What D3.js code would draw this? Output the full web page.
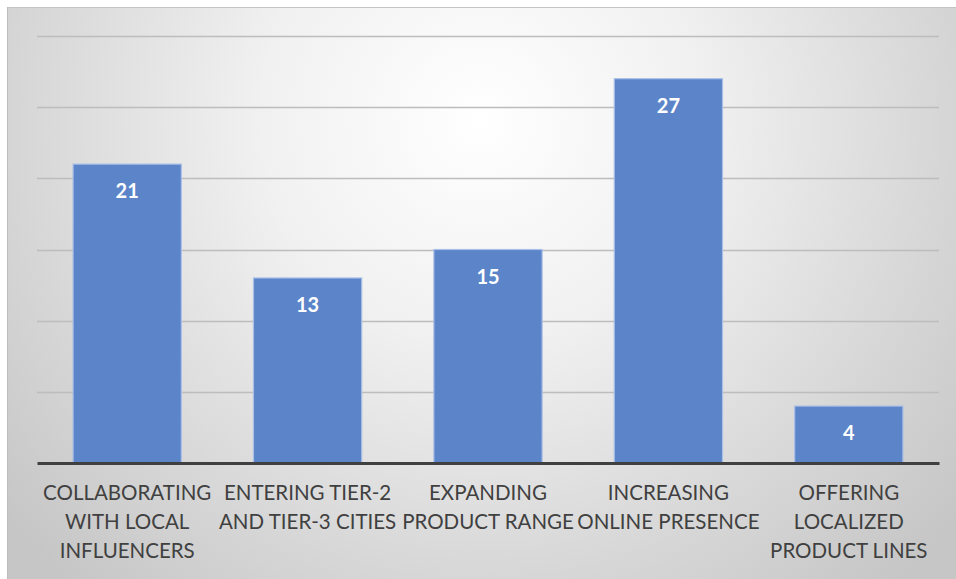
<!DOCTYPE html>
<html>
<head>
<meta charset="utf-8">
<script src="https://cdn.jsdelivr.net/npm/d3@7"></script>
<style>
  html, body { margin: 0; padding: 0; background: #ffffff; }
  svg { display: block; }
</style>
</head>
<body>
<svg id="chart" width="956" height="579"></svg>
<script>
// Strategy categories, with their wrapped label lines
const categories = [
  "Collaborating with local influencers",
  "Entering Tier-2 and Tier-3 cities",
  "Expanding product range",
  "Increasing online presence",
  "Offering localized product lines"
];
const labelLines = [
  ["COLLABORATING", "WITH LOCAL", "INFLUENCERS"],
  ["ENTERING TIER-2", "AND TIER-3 CITIES"],
  ["EXPANDING", "PRODUCT RANGE"],
  ["INCREASING", "ONLINE PRESENCE"],
  ["OFFERING", "LOCALIZED", "PRODUCT LINES"]
];
const values = [21, 13, 15, 27, 4];
const gridTicks = [5, 10, 15, 20, 25, 30];

const W = 956, H = 579;
const svg = d3.select("#chart");

// Soft radial background panel
const defs = svg.append("defs");
const grad = defs.append("radialGradient")
  .attr("id", "bg").attr("gradientUnits", "userSpaceOnUse")
  .attr("cx", 480).attr("cy", 120).attr("r", 620)
  .attr("fx", 480).attr("fy", 120);
grad.append("stop").attr("offset", "0%").attr("stop-color", "#ffffff");
grad.append("stop").attr("offset", "35%").attr("stop-color", "#f1f1f1");
grad.append("stop").attr("offset", "75%").attr("stop-color", "#d6d6d6");
grad.append("stop").attr("offset", "100%").attr("stop-color", "#c6c6c6");

svg.append("rect").attr("x", 7).attr("y", 7).attr("width", W - 7).attr("height", H - 7)
  .attr("fill", "url(#bg)");
svg.append("line").attr("x1", 7).attr("x2", W).attr("y1", 7.5).attr("y2", 7.5)
  .attr("stroke", "#c4c4c4").attr("stroke-width", 1);
svg.append("line").attr("x1", 7.5).attr("x2", 7.5).attr("y1", 7).attr("y2", H)
  .attr("stroke", "#bdbdbd").attr("stroke-width", 1);

const x = d3.scaleBand().domain(categories).range([37, 939]).paddingInner(0.4).paddingOuter(0.2);
const y = d3.scaleLinear().domain([0, 30]).range([463, 36]);

// Horizontal gridlines
svg.append("g").selectAll("line").data(gridTicks).join("line")
  .attr("x1", 37).attr("x2", 939)
  .attr("y1", d => Math.round(y(d)) + 0.5).attr("y2", d => Math.round(y(d)) + 0.5)
  .attr("stroke", "#bdbdbd").attr("stroke-width", 1.5);

// Bars
svg.append("g").selectAll("rect").data(values).join("rect")
  .attr("x", (d, i) => x(categories[i]))
  .attr("y", d => y(d))
  .attr("width", x.bandwidth())
  .attr("height", d => y(0) - y(d))
  .attr("fill", "#5b84c9")
  .attr("stroke", "#a9bfe6").attr("stroke-width", 1.2);

// Value labels inside bar tops
svg.append("g").selectAll("text").data(values).join("text")
  .attr("x", (d, i) => x(categories[i]) + x.bandwidth() / 2)
  .attr("y", d => y(d) + 34)
  .attr("text-anchor", "middle")
  .attr("font-family", "Lato, 'Open Sans', sans-serif")
  .attr("font-weight", 700)
  .attr("font-size", 20)
  .attr("fill", "#ffffff")
  .text(d => d);

// Category axis
const xAxis = svg.append("g").attr("transform", `translate(0,${y(0)})`)
  .call(d3.axisBottom(x).tickSize(0).tickFormat(""));
xAxis.select(".domain").attr("stroke", "#404040").attr("stroke-width", 3);

const lab = svg.append("g");
categories.forEach((c, i) => {
  const t = lab.append("text")
    .attr("x", x(c) + x.bandwidth() / 2)
    .attr("y", 500)
    .attr("text-anchor", "middle")
    .attr("font-family", "Lato, 'Open Sans', sans-serif")
    .attr("font-size", 20.5)
    .attr("fill", "#404040");
  labelLines[i].forEach((ln, j) => {
    t.append("tspan").attr("x", x(c) + x.bandwidth() / 2).attr("dy", j === 0 ? 0 : 29).text(ln);
  });
});
</script>
</body>
</html>
